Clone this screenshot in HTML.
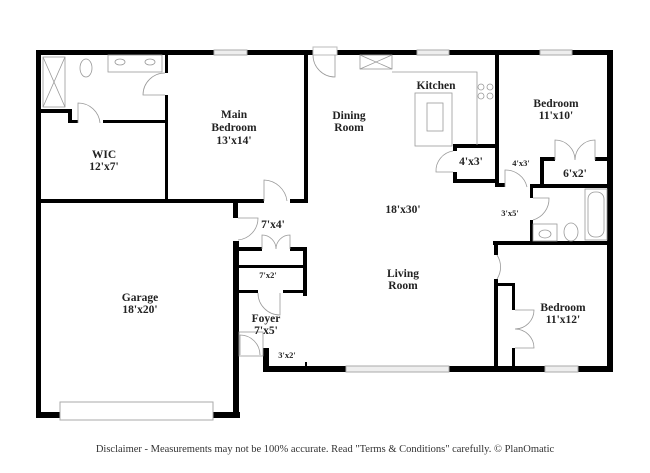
<!DOCTYPE html>
<html><head><meta charset="utf-8"><style>
html,body{margin:0;padding:0;background:#fff;}
svg{display:block;}
text{font-family:"Liberation Serif",serif;font-weight:bold;fill:#222;text-anchor:middle;}
.s{font-size:11.5px;}
.t{font-size:8.5px;}
</style></head><body>
<svg width="650" height="473" viewBox="0 0 650 473" xmlns="http://www.w3.org/2000/svg">
<g fill="#000">
<rect x="36" y="50" width="577" height="5"/>
<rect x="36" y="50" width="5" height="368"/>
<rect x="607" y="50" width="6" height="322"/>
<rect x="36" y="412" width="204" height="6"/>
<rect x="233" y="241" width="6" height="177"/>
<rect x="233" y="200" width="5" height="18"/>
<rect x="263" y="366" width="350" height="6"/>
<rect x="263" y="348" width="6" height="24"/>
<rect x="41" y="109" width="31" height="4"/>
<rect x="68" y="109" width="4" height="14"/>
<rect x="68" y="120" width="10" height="3"/>
<rect x="103" y="120" width="64" height="3"/>
<rect x="165" y="54" width="3" height="19"/>
<rect x="165" y="95" width="3" height="107"/>
<rect x="41" y="199" width="223" height="4"/>
<rect x="290" y="199" width="18" height="4"/>
<rect x="304" y="54" width="4" height="149"/>
<rect x="238" y="247" width="24" height="4"/>
<rect x="290" y="247" width="17" height="4"/>
<rect x="238" y="265" width="69" height="3"/>
<rect x="238" y="290" width="20" height="3"/>
<rect x="283" y="290" width="24" height="3"/>
<rect x="303" y="247" width="4" height="49"/>
<rect x="305" y="362" width="2" height="5"/>
<rect x="453" y="144" width="45" height="4"/>
<rect x="453" y="144" width="4" height="7"/>
<rect x="453" y="172" width="4" height="11"/>
<rect x="453" y="179" width="46" height="4"/>
<rect x="495" y="54" width="4" height="133"/>
<rect x="495" y="183" width="10" height="4"/>
<rect x="540" y="157" width="15" height="4"/>
<rect x="595" y="157" width="13" height="4"/>
<rect x="540" y="157" width="4" height="30"/>
<rect x="530" y="184" width="78" height="4"/>
<rect x="530" y="184" width="3" height="14"/>
<rect x="530" y="220" width="3" height="25"/>
<rect x="493" y="241" width="115" height="4"/>
<rect x="494" y="241" width="4" height="14"/>
<rect x="494" y="279" width="4" height="92"/>
<rect x="494" y="283" width="21" height="3"/>
<rect x="512" y="283" width="3" height="27"/>
<rect x="512" y="348" width="3" height="20"/>
</g>
<g fill="#eee" stroke="#aaa" stroke-width="1">
<rect x="214" y="50" width="33" height="5"/>
<rect x="417" y="50" width="32" height="5"/>
<rect x="540" y="50" width="32" height="5"/>
<rect x="346" y="366" width="103" height="6"/>
<rect x="545" y="366" width="33" height="6"/>
<rect x="60" y="402" width="153" height="18" fill="#fff"/>
<rect x="313" y="47" width="24" height="8" fill="#fff" stroke="#bbb"/>
</g>
<g fill="none" stroke="#999" stroke-width="0.8">
<rect x="43" y="57" width="22" height="50"/>
<line x1="43" y1="57" x2="65" y2="107"/><line x1="65" y1="57" x2="43" y2="107"/>
<ellipse cx="86" cy="68" rx="6" ry="9"/>
<rect x="108" y="55" width="54" height="17"/>
<ellipse cx="120" cy="62" rx="5" ry="3"/><ellipse cx="150" cy="62" rx="5" ry="3"/>
<path d="M165 73 A22 22 0 0 0 143 95 L165 95"/>
<path d="M78 123 L78 103 A22 22 0 0 1 100 123"/>
<path d="M264 201 L264 180 A24 24 0 0 1 287 201"/>
<path d="M238 218 L258 218 A22 22 0 0 1 238 240"/>
<path d="M262 249 L262 235 A14 14 0 0 1 276 249 M290 249 L290 235 A14 14 0 0 0 276 249"/>
<path d="M258 293 A22 22 0 0 0 280 315 L280 293"/>
<rect x="239" y="332" width="24" height="24"/>
<path d="M240 355 L240 335 A20 20 0 0 1 260 355"/>
<path d="M313 55 A22 22 0 0 0 335 77 L335 55"/>
<rect x="360" y="55" width="32" height="14"/>
<line x1="360" y1="55" x2="392" y2="69"/><line x1="392" y1="55" x2="360" y2="69"/>
<polyline points="392,72 477,72 477,145"/>
<rect x="415" y="93" width="37" height="53"/>
<rect x="427" y="103" width="16" height="28"/>
<circle cx="481" cy="87" r="3"/><circle cx="490" cy="87" r="3"/>
<circle cx="481" cy="96" r="3"/><circle cx="490" cy="96" r="3"/>
<path d="M453 151 A20 20 0 0 0 436 172 L453 172"/>
<path d="M505 187 L505 170 A22 22 0 0 1 527 187"/>
<path d="M533 198 L549 198 A22 22 0 0 1 533 220"/>
<path d="M555 160 L555 140 A20 20 0 0 1 575 160 M595 160 L595 140 A20 20 0 0 0 575 160"/>
<rect x="585" y="189" width="22" height="51"/>
<rect x="588" y="192" width="16" height="45" rx="7"/>
<ellipse cx="571" cy="232" rx="7" ry="9"/>
<rect x="533" y="224" width="24" height="17"/>
<ellipse cx="545" cy="234" rx="6" ry="4"/>
<path d="M497 255 A22 22 0 0 1 497 279"/>
<path d="M515 310 L534 310 A19 19 0 0 1 515 329 M515 348 L534 348 A19 19 0 0 0 515 329"/>
</g>
<text class="s" x="234" y="118">Main</text>
<text class="s" x="234" y="131">Bedroom</text>
<text class="s" x="234" y="144">13'x14'</text>
<text class="s" x="104" y="158">WIC</text>
<text class="s" x="104" y="170">12'x7'</text>
<text class="s" x="349" y="119">Dining</text>
<text class="s" x="349" y="131">Room</text>
<text class="s" x="436" y="89">Kitchen</text>
<text class="s" x="556" y="107">Bedroom</text>
<text class="s" x="556" y="119">11'x10'</text>
<text class="s" x="471" y="165">4'x3'</text>
<text class="t" x="521" y="166">4'x3'</text>
<text class="s" x="575" y="177">6'x2'</text>
<text class="s" x="403" y="213">18'x30'</text>
<text class="t" x="510" y="216">3'x5'</text>
<text class="s" x="273" y="228">7'x4'</text>
<text class="t" x="268" y="278">7'x2'</text>
<text class="s" x="403" y="277">Living</text>
<text class="s" x="403" y="289">Room</text>
<text class="s" x="140" y="301">Garage</text>
<text class="s" x="140" y="313">18'x20'</text>
<text class="s" x="563" y="311">Bedroom</text>
<text class="s" x="563" y="323">11'x12'</text>
<text class="s" x="266" y="322">Foyer</text>
<text class="s" x="266" y="334">7'x5'</text>
<text class="t" x="287" y="358">3'x2'</text>
<text x="325" y="452" style="font-size:10.5px;font-weight:normal;fill:#333">Disclaimer - Measurements may not be 100% accurate. Read "Terms &amp; Conditions" carefully. © PlanOmatic</text>
</svg>
</body></html>
